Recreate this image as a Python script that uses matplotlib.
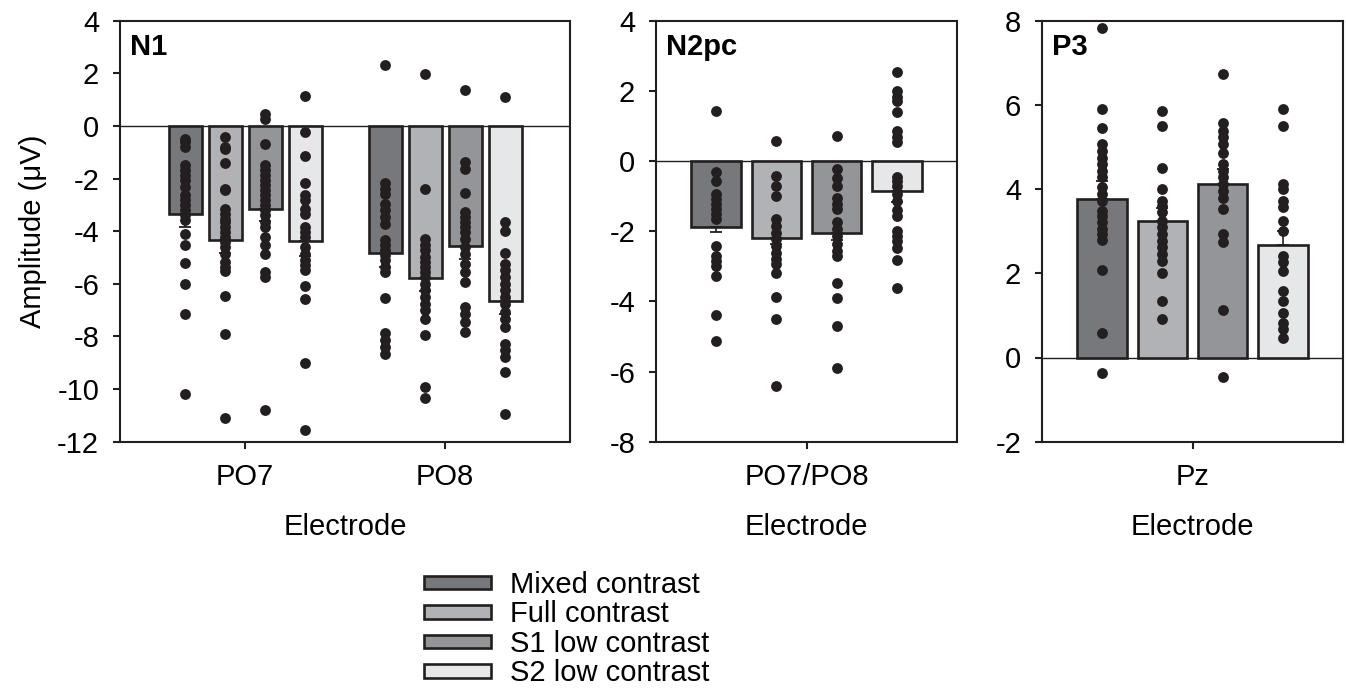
import numpy as np
import matplotlib
matplotlib.use("Agg")
from matplotlib import pyplot as pl
from matplotlib.patches import Patch

pl.rcParams['font.family'] = ['Liberation Sans', 'DejaVu Sans']
pl.rcParams['font.size'] = 21
pl.rcParams['axes.unicode_minus'] = False

conditions = ["Mixed contrast", "Full contrast", "S1 low contrast", "S2 low contrast"]
colors = ["#77787b", "#b1b2b5", "#939598", "#e6e7e8"]
ink = "#231f20"

# N1 (PO7, PO8)
n1_electrodes = ["PO7", "PO8"]
n1_means = [[-3.36, -4.32, -3.17, -4.39],
            [-4.82, -5.78, -4.58, -6.65]]
n1_sem = [[0.48, 0.50, 0.46, 0.55],
          [0.54, 0.50, 0.49, 0.48]]
n1_po7_dots = [
    [-0.49, -0.62, -0.81, -1.5, -1.69, -1.88, -2.07, -2.33, -2.64, -2.83, -3.02,
     -3.21, -3.4, -3.59, -4.1, -4.51, -5.2, -6.0, -7.14, -10.2],
    [-0.43, -0.81, -0.87, -1.40, -2.39, -2.45, -3.15, -3.34, -3.53, -3.65, -3.84,
     -4.03, -4.22, -4.41, -4.6, -4.85, -5.17, -5.36, -5.51, -6.46, -7.91, -11.11],
    [0.46, 0.27, -0.68, -1.5, -1.69, -1.88, -2.07, -2.26, -2.45, -2.64, -2.83,
     -3.02, -3.21, -3.4, -3.65, -3.84, -4.22, -4.54, -4.85, -5.55, -5.74, -10.8],
    [1.13, -0.24, -1.13, -2.17, -2.64, -2.83, -3.15, -3.34, -3.84, -4.03, -4.22,
     -4.6, -4.85, -5.11, -5.3, -5.49, -6.08, -6.59, -9.0, -11.56],
]
n1_po8_dots = [
    [2.33, -2.17, -2.39, -2.58, -2.96, -3.21, -3.46, -3.72, -4.35, -4.54, -4.73,
     -4.92, -5.11, -5.36, -5.55, -6.52, -7.85, -8.14, -8.39, -8.65],
    [1.96, -2.41, -4.31, -4.54, -4.73, -4.98, -5.17, -5.36, -5.55, -5.74, -5.99,
     -6.25, -6.5, -6.75, -7.0, -7.32, -7.93, -9.91, -10.35],
    [1.38, -1.38, -1.63, -2.55, -3.27, -3.46, -3.65, -3.84, -4.03, -4.29, -4.6,
     -4.85, -5.23, -5.55, -5.93, -6.88, -7.13, -7.45, -7.83],
    [1.11, -3.65, -4.01, -4.82, -5.23, -5.49, -5.74, -5.99, -6.25, -6.5, -6.75,
     -7.07, -7.32, -7.64, -8.27, -8.52, -8.77, -9.34, -10.95],
]

# N2pc (PO7/PO8)
n2pc_electrodes = ["PO7/PO8"]
n2pc_means = [[-1.88, -2.18, -2.04, -0.85]]
n2pc_sem = [[0.13, 0.19, 0.21, 0.31]]
n2pc_dots = [
    [1.42, -0.32, -0.56, -0.94, -1.09, -1.23, -1.37, -1.51, -1.66, -2.42, -2.7,
     -2.85, -2.99, -3.28, -4.39, -5.13],
    [0.58, -0.42, -0.7, -0.99, -1.66, -1.85, -2.04, -2.23, -2.42, -2.61, -2.8,
     -2.94, -3.18, -3.87, -4.51, -6.42],
    [0.7, -0.23, -0.47, -0.7, -1.04, -1.23, -1.37, -1.75, -1.94, -2.13, -2.37,
     -2.56, -2.72, -3.47, -3.9, -4.7, -5.9],
    [2.55, 1.99, 1.82, 1.70, 1.39, 0.87, 0.68, 0.53, -0.45, -0.56, -0.70, -0.94,
     -1.13, -1.4, -1.56, -1.99, -2.13, -2.28, -2.47, -2.83, -3.61],
]

# P3 (Pz)
p3_electrodes = ["Pz"]
p3_means = [[3.77, 3.25, 4.12, 2.67]]
p3_sem = [[0.43, 0.30, 0.35, 0.34]]
p3_dots = [
    [7.83, 5.9, 5.46, 5.07, 4.91, 4.75, 4.59, 4.43, 4.28, 4.04, 3.88, 3.72, 3.49,
     3.37, 3.21, 3.05, 2.93, 2.79, 2.08, 0.58, -0.36],
    [5.86, 5.5, 4.51, 4.0, 3.71, 3.6, 3.45, 3.25, 3.09, 2.93, 2.77, 2.62, 2.46,
     2.3, 2.0, 1.35, 0.92],
    [6.74, 5.58, 5.38, 5.23, 5.07, 4.85, 4.59, 4.43, 4.28, 4.12, 3.96, 3.8, 3.53,
     2.93, 2.75, 1.14, -0.47],
    [5.9, 5.5, 4.12, 4.0, 3.72, 3.57, 3.25, 3.0, 2.42, 2.26, 2.06, 1.59, 1.35,
     1.06, 0.81, 0.68, 0.46],
]


def draw_panel(ax, title, electrodes, means, sems, dots, ylim, bar_width=0.165, step=0.2):
    ax.axhline(0, color=ink, lw=1.0, zorder=1)
    for i in range(len(electrodes)):
        for j in range(len(conditions)):
            x = i + (j - 1.5) * step
            m = means[i][j]
            ax.bar(x, m, bar_width, color=colors[j], edgecolor=ink, linewidth=1.9, zorder=2)
            ys = dots[i][j]
            ax.plot([x] * len(ys), ys, 'o', color=ink, ms=7.8, mew=0, zorder=3)
            err = [[sems[i][j]], [0]] if m < 0 else [[0], [sems[i][j]]]
            ax.errorbar(x, m, yerr=err, fmt='none', ecolor=ink, elinewidth=1.2,
                        capsize=4.5, capthick=1.3, zorder=4)

    pad = 0.625 if len(electrodes) > 1 else 0.5
    ax.set_ylim(*ylim)
    ax.set_yticks(np.arange(ylim[0], ylim[1] + 1, 2))
    ax.set_xticks(range(len(electrodes)))
    ax.set_xticklabels(electrodes)
    ax.set_xlim(-pad, len(electrodes) - 1 + pad)
    ax.set_xlabel("Electrode", labelpad=16)
    for s in ax.spines.values():
        s.set_linewidth(1.5)
        s.set_color(ink)
    ax.tick_params(direction='out', length=5, width=1.5, color=ink)
    ax.tick_params(axis='y', pad=10)
    ax.tick_params(axis='x', pad=10)
    ax.annotate(title, xy=(0, 1), xycoords='axes fraction', xytext=(7, -9),
                textcoords='offset points', ha='left', va='top', fontweight='bold')


fig = pl.figure(figsize=(13.46, 6.98), dpi=100)
ax1 = fig.add_axes([120 / 1346, 1 - 441.7 / 698, 450 / 1346, 421 / 698])
ax2 = fig.add_axes([656 / 1346, 1 - 441.7 / 698, 301 / 1346, 421 / 698])
ax3 = fig.add_axes([1042 / 1346, 1 - 441.7 / 698, 301 / 1346, 421 / 698])

draw_panel(ax1, "N1", n1_electrodes, n1_means, n1_sem, [n1_po7_dots, n1_po8_dots], (-12, 4))
draw_panel(ax2, "N2pc", n2pc_electrodes, n2pc_means, n2pc_sem, [n2pc_dots], (-8, 4))
draw_panel(ax3, "P3", p3_electrodes, p3_means, p3_sem, [p3_dots], (-2, 8))

ax1.set_ylabel("Amplitude (\u03bcV)", labelpad=7)

handles = [Patch(facecolor=c, edgecolor=ink, linewidth=1.9) for c in colors]
fig.legend(handles, conditions, loc='upper left', bbox_to_anchor=(424 / 1346, 1 - 571 / 698),
           frameon=False, borderpad=0, borderaxespad=0, handlelength=2.3, handleheight=0.34,
           handletextpad=0.65, labelspacing=0.05)

fig.savefig("out.png", dpi=100)
